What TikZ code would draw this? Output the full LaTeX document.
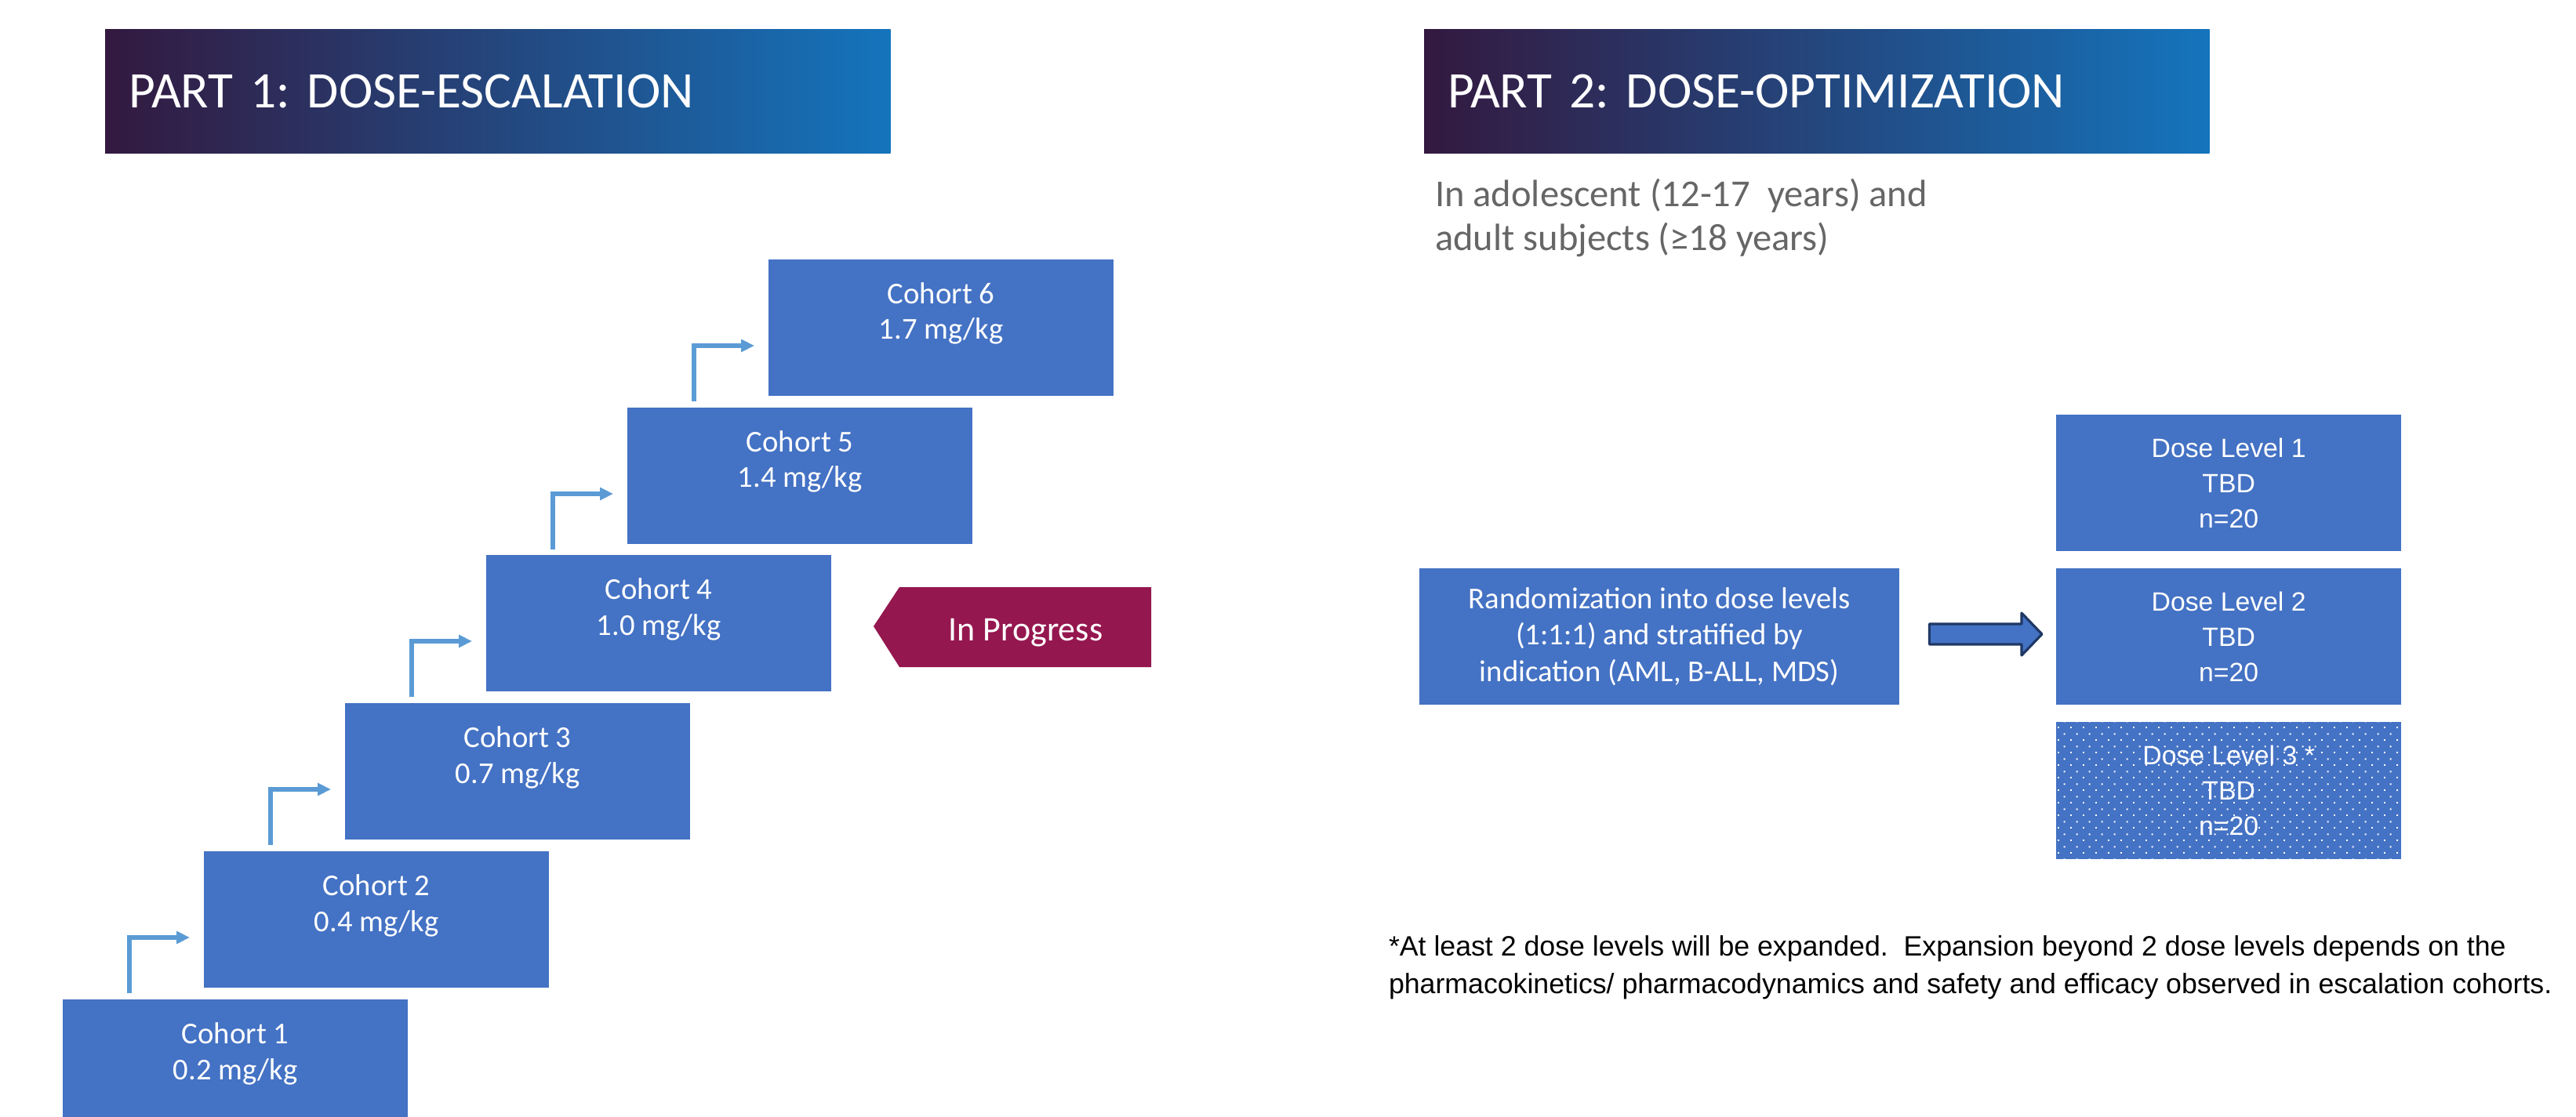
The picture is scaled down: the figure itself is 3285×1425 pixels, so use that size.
\documentclass[tikz,border=0pt]{standalone}
\usepackage{fontspec}
\setmainfont{Carlito}
\newfontfamily\arialfont{Liberation Sans}
\frenchspacing
\usetikzlibrary{positioning}
\usetikzlibrary{calc}
\usetikzlibrary{arrows.meta}
\usetikzlibrary{patterns.meta}
\definecolor{boxblue}{HTML}{4472C4}
\definecolor{stepblue}{HTML}{5B9BD5}
\definecolor{navy}{HTML}{1F3864}
\definecolor{plum}{HTML}{95174F}
\definecolor{hdleft}{HTML}{33193F}
\definecolor{hdright}{HTML}{1574BC}
\definecolor{subgray}{HTML}{666666}
\tikzdeclarepattern{
  name=dlwhitedots,
  type=uncolored,
  bounding box={(0pt,0pt) and (4.55pt,4.55pt)},
  tile size={(4.55pt,4.55pt)},
  code={
    \fill (0pt,0pt) rectangle (0.6pt,0.6pt);
    \fill (2.275pt,2.275pt) rectangle (2.875pt,2.875pt);
  }
}
\tikzstyle{every node}=[inner sep=0pt,outer sep=0pt]
\tikzstyle{header}=[anchor=north west,left color=hdleft,right color=hdright,
  minimum height=1.57cm,text width=9.41cm,inner xsep=0.3cm,align=left,
  text=white,font=\fontsize{18.6}{22}\selectfont]
\tikzstyle{cohort}=[anchor=north west,fill=boxblue,minimum width=4.4cm,minimum height=1.74cm]
\tikzstyle{cohorttext}=[anchor=base,align=center,text=white,font=\fontsize{11}{12.9}\selectfont]
\tikzstyle{steparrow}=[draw=stepblue,line width=1.5pt,-{Triangle[length=4.8pt,width=4.4pt]}]
\tikzstyle{dose}=[anchor=north west,fill=boxblue,minimum width=4.4cm,minimum height=1.74cm,
  align=center,text=white,font=\arialfont\fontsize{9.6}{12.8}\selectfont]
\tikzstyle{randbox}=[anchor=north west,fill=boxblue,minimum width=6.12cm,minimum height=1.74cm,
  align=center,text=white,font=\fontsize{11}{13.3}\selectfont]
\tikzstyle{blockarrow}=[fill=boxblue,draw=navy,line width=0.9pt,line join=round]

\begin{document}
\begin{tikzpicture}[x=0.01cm,y=-0.01cm]
  \clip (0,0) rectangle (3285,1425);
  \fill[white] (0,0) rectangle (3285,1425);

  % headers
  \node[header] (part1) at (134,38) {PART 1: DOSE-ESCALATION};
  \node[header] (part2) at (1816,38) {PART 2: DOSE-OPTIMIZATION};
  \node[anchor=base west,align=left,text=subgray,font=\fontsize{13.8}{16.2}\selectfont]
    (sub) at (1830,320) {In adolescent (12-17\ \ years) and\\adult subjects (≥18 years)};

  % part 1: cohort staircase
  \node[cohort] (c1) at (80,1275) {};
  \node[cohort] (c2) at (260,1086) {};
  \node[cohort] (c3) at (440,897) {};
  \node[cohort] (c4) at (620,708) {};
  \node[cohort] (c5) at (800,520) {};
  \node[cohort] (c6) at (980,331) {};
  \node[cohorttext] (t1) at ($(c1.north)+(0,102)$) {Cohort 1\\0.2 mg/kg};
  \node[cohorttext] (t2) at ($(c2.north)+(0,102)$) {Cohort 2\\0.4 mg/kg};
  \node[cohorttext] (t3) at ($(c3.north)+(0,102)$) {Cohort 3\\0.7 mg/kg};
  \node[cohorttext] (t4) at ($(c4.north)+(0,102)$) {Cohort 4\\1.0 mg/kg};
  \node[cohorttext] (t5) at ($(c5.north)+(0,102)$) {Cohort 5\\1.4 mg/kg};
  \node[cohorttext] (t6) at ($(c6.north)+(0,102)$) {Cohort 6\\1.7 mg/kg};

  \draw[steparrow] ($(c2.north west)+(-95,181)$) |- ($(c2.north west)+(-18,110)$);
  \draw[steparrow] ($(c3.north west)+(-95,181)$) |- ($(c3.north west)+(-18,110)$);
  \draw[steparrow] ($(c4.north west)+(-95,181)$) |- ($(c4.north west)+(-18,110)$);
  \draw[steparrow] ($(c5.north west)+(-95,181)$) |- ($(c5.north west)+(-18,110)$);
  \draw[steparrow] ($(c6.north west)+(-95,181)$) |- ($(c6.north west)+(-18,110)$);

  % in progress tag
  \fill[plum] (1114,799) -- (1147,749) -- (1468,749) -- (1468,851) -- (1147,851) -- cycle;
  \node[anchor=base,text=white,font=\fontsize{12.5}{15}\selectfont] (prog) at (1308,817) {In Progress};

  % part 2
  \node[randbox] (rand) at (1810,725) {Randomization into dose levels\\(1:1:1) and stratified by\\indication (AML, B-ALL, MDS)};
  \node[dose] (dl1) at (2622,529) {Dose Level 1\\TBD\\n=20};
  \node[dose] (dl2) at (2622,725) {Dose Level 2\\TBD\\n=20};
  \node[dose,minimum height=1.75cm,postaction={pattern=dlwhitedots,pattern color=white}]
    (dl3) at (2622,921) {Dose Level 3 *\\TBD\\n=20};

  \coordinate (bs) at ($(rand.east)+(38,-3)$);
  \coordinate (bt) at ($(dl2.west)+(-18,-3)$);
  \draw[blockarrow] ($(bs)+(0,-13)$) -- ($(bt)+(-26,-13)$) -- ($(bt)+(-26,-27)$) -- (bt)
    -- ($(bt)+(-26,27)$) -- ($(bt)+(-26,13)$) -- ($(bs)+(0,13)$) -- cycle;

  \node[anchor=base west,align=left,font=\arialfont\fontsize{10.15}{13.4}\selectfont] (note) at (1771,1267)
    {*At least 2 dose levels will be expanded.\ \ Expansion beyond 2 dose levels depends on the\\pharmacokinetics/ pharmacodynamics and safety and efficacy observed in escalation cohorts.};
\end{tikzpicture}
\end{document}
